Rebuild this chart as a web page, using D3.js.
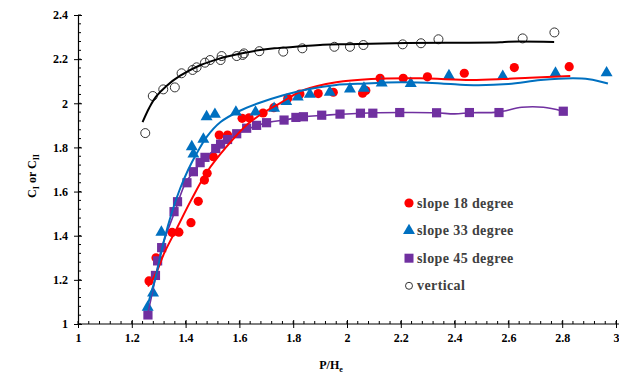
<!DOCTYPE html>
<html><head><meta charset="utf-8">
<script src="https://cdn.jsdelivr.net/npm/d3@7"></script>
<style>
html,body{margin:0;padding:0;background:#fff;}
svg{display:block;}
text{font-family:"Liberation Serif","Times New Roman",serif;font-weight:bold;}
</style></head>
<body><svg id="chart" width="619" height="374"></svg>
<script>
// ---- data ----
const xTicks = [1,1.2,1.4,1.6,1.8,2,2.2,2.4,2.6,2.8,3];
const yTicks = [1,1.2,1.4,1.6,1.8,2,2.2,2.4];
const legendLabels = ["slope 18 degree","slope 33 degree","slope 45 degree","vertical"];

// scatter points [P/He, C]
const slope18 = [[1.264,1.195],[1.29,1.30],[1.35,1.415],[1.375,1.416],[1.42,1.459],[1.447,1.556],[1.47,1.652],[1.48,1.683],[1.503,1.758],[1.525,1.856],[1.556,1.856],[1.61,1.932],[1.636,1.934],[1.688,1.956],[1.728,1.98],[1.78,2.023],[1.825,2.042],[1.893,2.044],[1.949,2.05],[2.058,2.046],[2.07,2.058],[2.123,2.113],[2.209,2.113],[2.299,2.12],[2.436,2.136],[2.622,2.162],[2.826,2.166]];
const slope33 = [[1.259,1.076],[1.279,1.14],[1.31,1.416],[1.423,1.803],[1.429,1.77],[1.466,1.837],[1.478,1.939],[1.509,1.95],[1.587,1.96],[1.66,1.96],[1.729,1.977],[1.774,2.008],[1.817,2.028],[1.862,2.041],[1.936,2.05],[2.011,2.065],[2.063,2.068],[2.129,2.092],[2.237,2.09],[2.379,2.125],[2.579,2.122],[2.775,2.136],[2.965,2.138]];
const slope45 = [[1.26,1.041],[1.288,1.22],[1.296,1.286],[1.311,1.346],[1.357,1.509],[1.37,1.554],[1.405,1.64],[1.429,1.69],[1.454,1.731],[1.472,1.755],[1.512,1.795],[1.53,1.815],[1.556,1.836],[1.59,1.862],[1.627,1.887],[1.664,1.9],[1.701,1.912],[1.766,1.924],[1.81,1.936],[1.838,1.939],[1.906,1.946],[1.974,1.951],[2.05,1.955],[2.096,1.955],[2.196,1.958],[2.333,1.957],[2.455,1.958],[2.565,1.958],[2.804,1.964]];
const vertical = [[1.25,1.865],[1.278,2.033],[1.317,2.063],[1.36,2.072],[1.385,2.136],[1.426,2.151],[1.441,2.163],[1.472,2.184],[1.491,2.196],[1.53,2.196],[1.534,2.214],[1.59,2.214],[1.612,2.219],[1.617,2.226],[1.674,2.236],[1.763,2.234],[1.834,2.249],[1.953,2.256],[2.011,2.256],[2.061,2.264],[2.207,2.267],[2.275,2.272],[2.34,2.29],[2.653,2.294],[2.771,2.321]];

// trend lines
const line18 = [[1.26,1.17],[1.29,1.23],[1.32,1.32],[1.37,1.44],[1.42,1.56],[1.48,1.69],[1.55,1.80],[1.63,1.905],[1.70,1.965],[1.75,2.0],[1.84,2.06],[1.96,2.095],[2.09,2.11],[2.27,2.113],[2.46,2.106],[2.58,2.11],[2.68,2.116],[2.83,2.124]];
const line33 = [[1.26,1.09],[1.29,1.22],[1.32,1.38],[1.35,1.51],[1.38,1.615],[1.41,1.70],[1.44,1.77],[1.48,1.85],[1.53,1.915],[1.60,1.965],[1.67,2.0],[1.76,2.035],[1.86,2.065],[1.96,2.083],[2.04,2.088],[2.2,2.095],[2.35,2.09],[2.47,2.082],[2.6,2.087],[2.72,2.105],[2.84,2.113],[2.9,2.109],[2.97,2.09]];
const line45 = [[1.26,1.05],[1.29,1.22],[1.31,1.34],[1.36,1.51],[1.40,1.64],[1.43,1.69],[1.47,1.75],[1.52,1.80],[1.56,1.835],[1.6,1.865],[1.66,1.897],[1.71,1.914],[1.77,1.925],[1.84,1.939],[1.91,1.945],[1.97,1.95],[2.05,1.955],[2.2,1.958],[2.33,1.957],[2.4,1.952],[2.46,1.957],[2.56,1.96],[2.65,1.982],[2.73,1.982],[2.8,1.965]];
const lineV = [[1.24,1.915],[1.265,1.98],[1.29,2.03],[1.33,2.08],[1.38,2.125],[1.45,2.17],[1.52,2.20],[1.60,2.224],[1.67,2.24],[1.73,2.249],[1.83,2.258],[1.91,2.265],[2.0,2.268],[2.22,2.273],[2.4,2.274],[2.57,2.276],[2.6,2.279],[2.77,2.278]];

const colors = {r:"#FF0000", b:"#0070C0", p:"#7030A0", k:"#000000"};

const svg = d3.select("#chart");
const x = d3.scaleLinear().domain([1,3]).range([78,616]);
const y = d3.scaleLinear().domain([1,2.4]).range([324,15]);

// minor ticks
const xMinor = d3.range(1,3.0001,0.04);
const yMinor = d3.range(1,2.4001,0.04);
const g = svg.append("g");
g.selectAll(".xm").data(xMinor).join("line")
  .attr("x1",d=>x(d)).attr("x2",d=>x(d)).attr("y1",y(1)).attr("y2",y(1)-3)
  .attr("stroke","#000").attr("stroke-width",1);
g.selectAll(".ym").data(yMinor).join("line")
  .attr("y1",d=>y(d)).attr("y2",d=>y(d)).attr("x1",x(1)).attr("x2",x(1)+3)
  .attr("stroke","#000").attr("stroke-width",1);

// axes
const xAxis = d3.axisBottom(x).tickValues(xTicks).tickFormat(d=>d3.format("")(d)).tickSizeInner(4).tickSizeOuter(0).tickPadding(5);
const yAxis = d3.axisLeft(y).tickValues(yTicks).tickFormat(d=>d3.format("")(d)).tickSizeInner(4).tickSizeOuter(0).tickPadding(6);
const gx = svg.append("g").attr("transform",`translate(0,${y(1)})`).call(xAxis);
const gy = svg.append("g").attr("transform",`translate(${x(1)},0)`).call(yAxis);
[gx,gy].forEach(a=>{
  a.selectAll("text").attr("font-size",12).attr("font-family","Liberation Serif").attr("font-weight","bold").attr("fill","#000");
  a.select(".domain").attr("stroke","#000").attr("stroke-width",1.2);
});
gx.select(".domain").attr("d",`M${x(1)},0H619`);
gx.selectAll(".tick line").attr("y1",-4).attr("y2",4);
gy.selectAll(".tick line").attr("x1",-4).attr("x2",4);

// axis titles
svg.append("text").attr("x",331).attr("y",369).attr("text-anchor","middle").attr("font-size",12)
  .html('P/H<tspan font-size="8" dy="3">e</tspan>');
svg.append("text").attr("transform","translate(36,176) rotate(-90)").attr("text-anchor","middle").attr("font-size",12)
  .html('C<tspan font-size="8" dy="3">I</tspan><tspan dy="-3"> or  C</tspan><tspan font-size="8" dy="3">II</tspan>');

// lines
const line = d3.line().x(d=>x(d[0])).y(d=>y(d[1])).curve(d3.curveCatmullRom.alpha(0.5));
const lineSpecs = [[line45,colors.p,1.6],[line18,colors.r,2],[line33,colors.b,2],[lineV,colors.k,2]];

// markers
const sym = (type,size)=>d3.symbol().type(type).size(size)();
function drawRed(sel,data){
  sel.selectAll(null).data(data).join("circle").attr("cx",d=>x(d[0])).attr("cy",d=>y(d[1])).attr("r",4.6).attr("fill",colors.r);
}
function drawBlue(sel,data){
  sel.selectAll(null).data(data).join("path").attr("transform",d=>`translate(${x(d[0])},${y(d[1])})`).attr("d",sym(d3.symbolTriangle,62)).attr("fill",colors.b);
}
function drawPurple(sel,data){
  sel.selectAll(null).data(data).join("rect").attr("x",d=>x(d[0])-4.6).attr("y",d=>y(d[1])-4.6).attr("width",9.2).attr("height",9.2).attr("fill",colors.p);
}
function drawOpen(sel,data,r){
  sel.selectAll(null).data(data).join("circle").attr("cx",d=>x(d[0])).attr("cy",d=>y(d[1])).attr("r",r).attr("fill","none").attr("stroke","#333").attr("stroke-width",1);
}
const marks = svg.append("g");
drawRed(marks.append("g"),slope18);
drawPurple(marks.append("g"),slope45);
drawBlue(marks.append("g"),slope33);
drawOpen(marks.append("g"),vertical,4.5);
const lines = svg.append("g");
lineSpecs.forEach(([d,c,w])=>{
  lines.append("path").datum(d).attr("d",line).attr("fill","none").attr("stroke",c).attr("stroke-width",w);
});

// legend
const lg = svg.append("g");
const lx = 409, ly0 = 203, ldy = 27.6;
legendLabels.forEach((t,i)=>{
  const cy = ly0 + i*ldy;
  const gi = lg.append("g");
  if(i===0) drawRed(gi,[[x.invert(lx),y.invert(cy)]]);
  if(i===1) drawBlue(gi,[[x.invert(lx),y.invert(cy)]]);
  if(i===2) gi.append("rect").attr("x",lx-4.5).attr("y",cy-4.5).attr("width",9).attr("height",9).attr("fill",colors.p);
  if(i===3) drawOpen(gi,[[x.invert(lx),y.invert(cy)]],3.5);
  lg.append("text").attr("x",lx+8).attr("y",cy+4.5).attr("font-size",14).attr("fill","#404040")
    .attr("letter-spacing","0.4").text(t);
});
</script></body></html>
